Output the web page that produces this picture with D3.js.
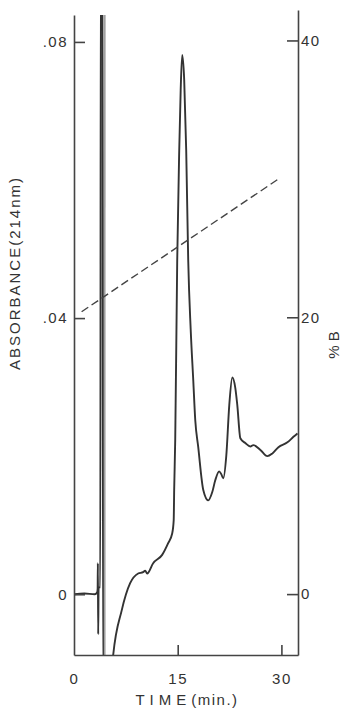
<!DOCTYPE html>
<html>
<head>
<meta charset="utf-8">
<script src="https://cdn.jsdelivr.net/npm/d3@7"></script>
<style>
  body { margin: 0; background: #fff; }
  svg { display: block; }
  text { font-family: "Liberation Sans", Arial, sans-serif; fill: #333; }
</style>
</head>
<body>
<div id="chart"></div>
<script>
// chromatogram trace (time in min, absorbance at 214 nm)
const timeMin = [0, 1.5, 3.0, 3.35, 3.42, 3.45, 3.5, 3.56, 3.8, 3.88, 4.12, 4.2, 5.5,
  5.6, 6.91, 8.12, 9.28, 10.0, 10.3, 10.58, 11.45, 12.75, 13.62, 14.2, 14.42, 14.49, 14.64,
  14.93, 15.22, 15.43, 15.65, 15.94, 16.23, 16.52, 16.88, 17.25, 17.54, 17.97, 18.7,
  19.42, 20.0, 20.43, 21.0, 21.3, 21.59, 22.03, 22.46, 22.9, 23.33, 23.62, 24.06,
  24.78, 25.51, 25.94, 26.96, 27.97, 28.7, 29.57, 30.87, 31.74, 32.32];
const absorbance = [0, 0.0001, 0, 0.0003, 0.0008, 0.0045, -0.0058, 0.001, 0.001, 0.095, 0.095, -0.012, -0.012,
  -0.0095, -0.0023, 0.0016, 0.0030, 0.0032, 0.0034, 0.0030, 0.0045, 0.0057, 0.0074, 0.0088, 0.0107, 0.0151, 0.0223,
  0.0484, 0.0643, 0.0730, 0.0781, 0.0745, 0.0643, 0.0484, 0.0383, 0.0310, 0.0252, 0.0213, 0.0151,
  0.0136, 0.0148, 0.0165, 0.0178, 0.0174, 0.0168, 0.0201, 0.0274, 0.0314, 0.0299, 0.0274, 0.0226,
  0.0219, 0.0214, 0.0216, 0.0209, 0.0200, 0.0204, 0.0213, 0.0220, 0.0228, 0.0233];

// faint second trace of the solvent front
const frontTime = [4.42, 4.43];
const frontAbs = [-0.012, 0.095];

// gradient, % B
const gradientTime = [1.1, 29.6];
const gradientB = [20.4, 30];

const xTicks = [0, 15, 30];
const absTicks = [0, 0.04, 0.08];
const absTickLabels = ['0', '.04', '.08'];
const bTicks = [0, 20, 40];

const width = 346;
const height = 711;

const svg = d3.select('#chart')
  .append('svg')
  .attr('width', width)
  .attr('height', height);

const x = d3.scaleLinear().domain([0, 32.4]).range([74, 298]);
const y = d3.scaleLinear().domain([-0.0088, 0.0839]).range([655, 15]);
const yB = d3.scaleLinear().domain([-4.4, 42.2]).range([655, 10]);

svg.append('clipPath')
  .attr('id', 'plot')
  .append('rect')
  .attr('x', x.range()[0])
  .attr('y', y.range()[1])
  .attr('width', x.range()[1] - x.range()[0])
  .attr('height', y.range()[0] - y.range()[1]);

const trace = timeMin.map((t, i) => [t, absorbance[i]]);
const front = frontTime.map((t, i) => [t, frontAbs[i]]);
const gradient = gradientTime.map((t, i) => [t, gradientB[i]]);

const line = d3.line()
  .x(d => x(d[0]))
  .y(d => y(d[1]))
  .curve(d3.curveMonotoneX);
const lineB = d3.line().x(d => x(d[0])).y(d => yB(d[1]));

const plot = svg.append('g').attr('clip-path', 'url(#plot)');

plot.append('path')
  .datum(front)
  .attr('d', line)
  .attr('fill', 'none')
  .attr('stroke', '#a0a0a0')
  .attr('stroke-width', 2);

plot.append('path')
  .datum(trace)
  .attr('d', line)
  .attr('fill', 'none')
  .attr('stroke', '#333')
  .attr('stroke-width', 1.9)
  .attr('stroke-linejoin', 'round');

svg.append('path')
  .datum(gradient)
  .attr('d', lineB)
  .attr('fill', 'none')
  .attr('stroke', '#444')
  .attr('stroke-width', 1.4)
  .attr('stroke-dasharray', '8,4');

// axes
const styleAxis = (g) => {
  g.selectAll('.domain').attr('stroke', '#444').attr('stroke-width', 1.6);
  g.selectAll('.tick line').attr('stroke', '#444').attr('stroke-width', 1.6);
  g.selectAll('.tick text')
    .attr('fill', '#333')
    .style('font-size', '15px')
    .style('letter-spacing', '1.5px')
    .style('font-family', '"Liberation Sans", Arial, sans-serif');
};

svg.append('g')
  .attr('transform', `translate(0,${y.range()[0]})`)
  .call(d3.axisBottom(x).tickValues(xTicks).tickSizeInner(-10).tickSizeOuter(0).tickPadding(18))
  .call(styleAxis)
  .call(g => g.selectAll('.tick line').filter(d => d === 0).remove());

svg.append('g')
  .attr('transform', `translate(${x.range()[0]},0)`)
  .call(d3.axisLeft(y).tickValues(absTicks).tickFormat((d, i) => absTickLabels[i])
    .tickSizeInner(-11).tickSizeOuter(0).tickPadding(6))
  .call(styleAxis);

svg.append('g')
  .attr('transform', `translate(${x.range()[1]},0)`)
  .call(d3.axisRight(yB).tickValues(bTicks).tickSizeInner(-11).tickSizeOuter(0).tickPadding(3))
  .call(styleAxis);

// axis titles
svg.append('text')
  .attr('transform', 'translate(15,273) rotate(-90)')
  .attr('text-anchor', 'middle')
  .attr('dy', '0.35em')
  .style('font-size', '15px')
  .style('letter-spacing', '2px')
  .text('ABSORBANCE(214nm)');

svg.append('text')
  .attr('transform', 'translate(334,345) rotate(-90)')
  .attr('text-anchor', 'middle')
  .attr('dy', '0.35em')
  .style('font-size', '15px')
  .text('% B');

const timeLabel = svg.append('text')
  .attr('x', 187)
  .attr('y', 705)
  .attr('text-anchor', 'middle')
  .style('font-size', '15px');
timeLabel.append('tspan').style('letter-spacing', '5px').text('TIME');
timeLabel.append('tspan').style('letter-spacing', '1.5px').text('(min.)');
</script>
</body>
</html>
